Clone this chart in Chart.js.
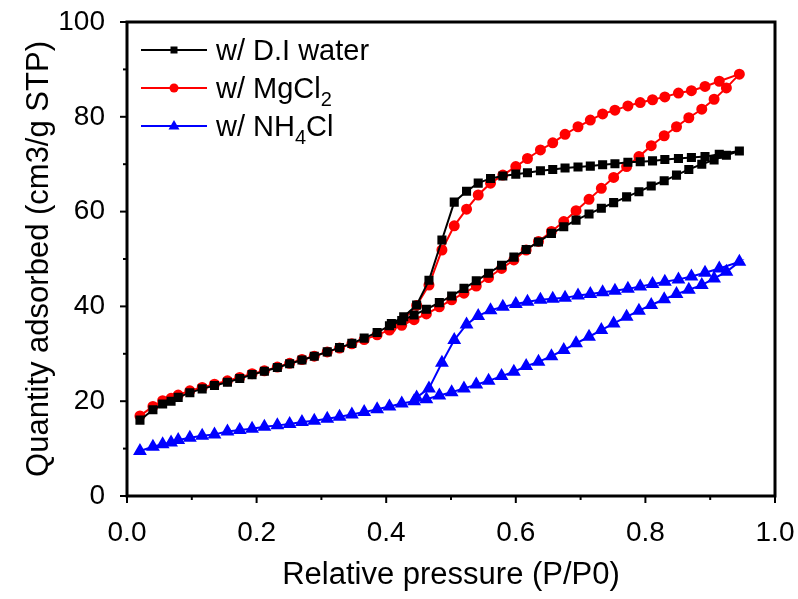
<!DOCTYPE html>
<html>
<head>
<meta charset="utf-8">
<script src="https://cdn.jsdelivr.net/npm/chart.js@4"></script>
<style>
  body { margin: 0; background: #fff; }
  #wrap { position: relative; width: 798px; height: 599px; }
  #legend { position: absolute; left: 140px; top: 31px; font-family: "Liberation Sans", Arial, sans-serif; font-size: 29px; color: #000; }
  .row { display: flex; align-items: center; height: 38px; }
  .row svg { margin-right: 8px; }
  sub { font-size: 20px; vertical-align: -8px; line-height: 0; }
</style>
</head>
<body>
<div id="wrap">
  <canvas id="isoChart" width="798" height="599"></canvas>
  <div id="legend">
    <div class="row">
      <svg width="68" height="20"><line x1="1" y1="10" x2="67" y2="10" stroke="#000" stroke-width="2"/><rect x="30.5" y="6.5" width="7" height="7" fill="#000"/></svg>
      <span>w/ D.I water</span>
    </div>
    <div class="row">
      <svg width="68" height="20"><line x1="1" y1="10" x2="67" y2="10" stroke="#ff0000" stroke-width="2"/><circle cx="34" cy="10" r="4.5" fill="#ff0000"/></svg>
      <span>w/ MgCl<sub>2</sub></span>
    </div>
    <div class="row">
      <svg width="68" height="20"><line x1="1" y1="10" x2="67" y2="10" stroke="#0000ff" stroke-width="2"/><polygon points="34,4 39.5,13.5 28.5,13.5" fill="#0000ff"/></svg>
      <span>w/ NH<sub>4</sub>Cl</span>
    </div>
  </div>
</div>
<script>
// relative pressure grids (adsorption branch up, desorption branch back down)
const adsP = [0.020, 0.040, 0.055, 0.068, 0.079, 0.097, 0.116, 0.135, 0.155, 0.174,
  0.193, 0.212, 0.232, 0.251, 0.270, 0.289, 0.309, 0.328, 0.347, 0.366,
  0.386, 0.405, 0.424, 0.443, 0.462, 0.482, 0.501, 0.520, 0.539, 0.558,
  0.578, 0.597, 0.616, 0.635, 0.655, 0.674, 0.693, 0.713, 0.732, 0.751,
  0.771, 0.790, 0.809, 0.829, 0.848, 0.867, 0.887, 0.906, 0.925, 0.945];
const desP = [0.914, 0.892, 0.871, 0.851, 0.830, 0.811, 0.792, 0.773, 0.753, 0.734,
  0.715, 0.696, 0.676, 0.657, 0.638, 0.618, 0.600, 0.580, 0.561, 0.542,
  0.524, 0.505, 0.486, 0.466, 0.447, 0.427, 0.408];

// quantity adsorbed (cm3/g STP)
const waterAds = [16.0, 18.2, 19.4, 20.0, 20.8, 21.8, 22.6, 23.3, 24.0, 24.8,
  25.6, 26.3, 27.1, 27.9, 28.7, 29.5, 30.4, 31.3, 32.2, 33.3,
  34.5, 35.9, 37.0, 38.2, 39.4, 40.8, 42.2, 43.8, 45.4, 47.0,
  48.7, 50.4, 52.0, 53.6, 55.4, 56.8, 58.2, 59.5, 60.7, 61.9,
  63.1, 64.2, 65.4, 66.5, 67.7, 68.9, 70.0, 70.9, 71.9, 72.8];
const waterDes = [72.1, 71.6, 71.4, 71.2, 71.0, 70.7, 70.5, 70.4, 70.1, 69.9,
  69.6, 69.4, 69.2, 68.9, 68.6, 68.2, 67.9, 67.5, 67.0, 66.0,
  64.3, 62.0, 54.0, 45.5, 40.3, 37.8, 36.4];

const mgAds = [16.9, 18.9, 20.1, 20.6, 21.3, 22.2, 22.9, 23.6, 24.3, 25.0,
  25.8, 26.4, 27.2, 28.0, 28.8, 29.5, 30.4, 31.2, 32.1, 33.0,
  34.0, 35.0, 36.0, 37.2, 38.4, 39.9, 41.4, 42.8, 44.3, 46.1,
  48.0, 49.8, 51.9, 53.7, 55.8, 57.9, 60.2, 62.6, 64.9, 67.2,
  69.5, 71.6, 73.9, 76.0, 77.9, 79.8, 81.6, 83.7, 86.1, 89.0];
const mgDes = [87.5, 86.4, 85.5, 85.0, 84.2, 83.6, 83.0, 82.3, 81.4, 80.6,
  79.3, 77.9, 76.3, 74.5, 73.0, 71.2, 69.5, 67.7, 66.0, 63.5,
  60.5, 57.0, 51.9, 44.5, 40.2, 37.2, 35.6];

const nhAds = [9.5, 10.4, 10.9, 11.3, 11.8, 12.3, 12.7, 13.0, 13.6, 13.9,
  14.2, 14.6, 14.9, 15.2, 15.6, 15.9, 16.3, 16.7, 17.2, 17.7,
  18.3, 18.9, 19.5, 20.0, 20.4, 21.2, 21.9, 22.7, 23.5, 24.3,
  25.3, 26.2, 27.4, 28.3, 29.5, 30.8, 32.2, 33.6, 35.0, 36.4,
  37.8, 39.1, 40.3, 41.5, 42.6, 43.5, 44.5, 45.9, 47.3, 49.4];
const nhDes = [48.0, 47.1, 46.3, 45.7, 45.2, 44.7, 44.2, 43.7, 43.3, 43.0,
  42.6, 42.3, 41.8, 41.6, 41.4, 41.0, 40.5, 39.9, 39.2, 38.0,
  36.2, 32.9, 28.1, 22.7, 20.8];

function loop(ads, des) {
  const up = ads.map((q, i) => ({ x: adsP[i], y: q }));
  const down = des.map((q, i) => ({ x: desP[i], y: q }));
  return up.concat(down);
}

const FONT = '"Liberation Sans", Arial, sans-serif';

// box frame + major/minor ticks
const framePlugin = {
  id: 'frame',
  afterDraw(chart) {
    const { ctx, chartArea: a, scales: { x, y } } = chart;
    ctx.save();
    ctx.strokeStyle = '#000';
    ctx.lineWidth = 2;
    for (let i = 0; i <= 10; i++) {
      const px = x.getPixelForValue(i / 10);
      const len = i % 2 === 0 ? 7 : 4;
      ctx.beginPath();
      ctx.moveTo(px, a.bottom);
      ctx.lineTo(px, a.bottom + len);
      ctx.stroke();
    }
    for (let v = 0; v <= 100; v += 10) {
      const py = y.getPixelForValue(v);
      const len = v % 20 === 0 ? 7 : 4;
      ctx.beginPath();
      ctx.moveTo(a.left, py);
      ctx.lineTo(a.left - len, py);
      ctx.stroke();
    }
    ctx.lineWidth = 3;
    ctx.strokeRect(a.left, a.top, a.right - a.left, a.bottom - a.top);
    ctx.restore();
  }
};

const ctx = document.getElementById('isoChart').getContext('2d');
new Chart(ctx, {
  type: 'line',
  data: {
    datasets: [
      {
        label: 'w/ D.I water',
        data: loop(waterAds, waterDes),
        borderColor: '#000000',
        backgroundColor: '#000000',
        pointStyle: 'rect',
        pointRadius: 5,
        borderWidth: 2
      },
      {
        label: 'w/ MgCl2',
        data: loop(mgAds, mgDes),
        borderColor: '#ff0000',
        backgroundColor: '#ff0000',
        pointStyle: 'circle',
        pointRadius: 4.5,
        borderWidth: 2
      },
      {
        label: 'w/ NH4Cl',
        data: loop(nhAds, nhDes),
        borderColor: '#0000ff',
        backgroundColor: '#0000ff',
        pointStyle: 'triangle',
        pointRadius: 6,
        borderWidth: 2
      }
    ]
  },
  options: {
    responsive: false,
    animation: false,
    devicePixelRatio: 1,
    layout: { autoPadding: false, padding: { top: 22, right: 23, left: 0, bottom: 0 } },
    plugins: {
      legend: { display: false },
      tooltip: { enabled: false }
    },
    elements: { line: { tension: 0 }, point: { borderWidth: 0 } },
    scales: {
      x: {
        type: 'linear',
        min: 0,
        max: 1,
        afterFit: s => { s.height = 103; s.paddingLeft = 0; s.paddingRight = 0; },
        grid: { display: false },
        border: { display: false },
        ticks: {
          stepSize: 0.1,
          padding: 12,
          color: '#000',
          font: { family: FONT, size: 28 },
          callback: v => (Math.round(v * 10) % 2 === 0 ? v.toFixed(1) : '')
        },
        title: {
          display: true,
          text: 'Relative pressure (P/P0)',
          color: '#000',
          font: { family: FONT, size: 31 },
          padding: { bottom: 5 }
        }
      },
      y: {
        min: 0,
        max: 100,
        afterFit: s => { s.width = 127; s.paddingTop = 0; s.paddingBottom = 0; },
        grid: { display: false },
        border: { display: false },
        ticks: {
          stepSize: 10,
          padding: 14,
          color: '#000',
          font: { family: FONT, size: 28 },
          callback: v => (v % 20 === 0 ? v : '')
        },
        title: {
          display: true,
          text: 'Quantity adsorbed (cm3/g STP)',
          color: '#000',
          font: { family: FONT, size: 31 },
          padding: { top: 21 }
        }
      }
    }
  },
  plugins: [framePlugin]
});
</script>
</body>
</html>
